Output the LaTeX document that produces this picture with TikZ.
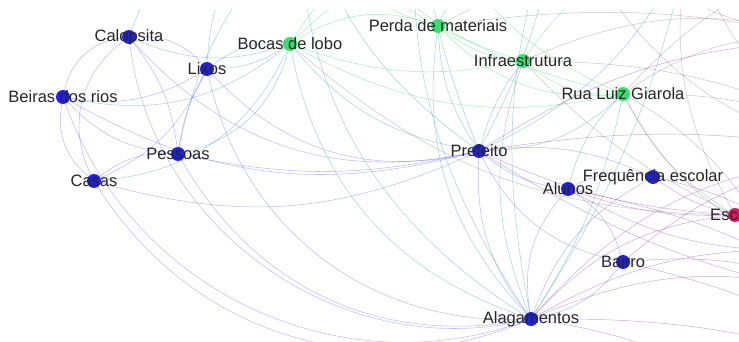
\documentclass[tikz,border=0pt]{standalone}
\usepackage{fontspec}
\setmainfont{Liberation Sans}
\usetikzlibrary{backgrounds}

\definecolor{nodeblue}{RGB}{32,32,228}
\definecolor{nodegreen}{RGB}{58,222,110}
\definecolor{nodepink}{RGB}{222,22,98}
\definecolor{edgeblue}{RGB}{90,90,245}
\definecolor{edgeteal}{RGB}{60,150,170}
\definecolor{edgegreen}{RGB}{70,225,120}
\definecolor{edgepurple}{RGB}{140,40,175}
\definecolor{edgegray}{RGB}{130,110,110}

\begin{document}
\begin{tikzpicture}[x=1pt,y=-1pt,
    every node/.style={font=\fontsize{16.5}{18}\selectfont, text=black!85},
    bnode/.style={circle, minimum size=14pt, inner sep=0pt, draw=none, fill=nodeblue},
    gnode/.style={circle, minimum size=14pt, inner sep=0pt, draw=none, fill=nodegreen},
    pnode/.style={circle, minimum size=14pt, inner sep=0pt, draw=none, fill=nodepink},
    bb/.style={draw=edgeblue, draw opacity=.4, line width=.55pt},
    bg/.style={draw=edgeteal, draw opacity=.45, line width=.5pt},
    gg/.style={draw=edgegreen, draw opacity=.5, line width=.5pt},
    bp/.style={draw=edgepurple, draw opacity=.4, line width=.5pt},
    gp/.style={draw=edgegray, draw opacity=.4, line width=.5pt},
    pp/.style={draw=nodepink, draw opacity=.45, line width=.5pt}]
    \useasboundingbox (0,0) rectangle (739,342);
    % Add the nodes
        \node[bnode, label=center:Calopsita] (cal) at (129,37) {};
        \node[bnode, label=center:Lixos] (lix) at (207,69) {};
        \node[gnode, label=center:Bocas de lobo] (boc) at (290,44) {};
        \node[bnode, label=center:Beiras dos rios] (bei) at (63,97) {};
        \node[bnode, label=center:Pessoas] (pes) at (178,154) {};
        \node[bnode, label=center:Casas] (cas) at (94,181) {};
        \node[gnode, label=center:Perda de materiais] (per) at (438,26) {};
        \node[gnode, label=center:Infraestrutura] (inf) at (523,61) {};
        \node[gnode, label=center:Rua Luiz Giarola] (rua) at (623,94) {};
        \node[bnode, label=center:Prefeito] (pre) at (479,151) {};
        \node[bnode, label=center:Frequência escolar] (fre) at (653,177) {};
        \node[bnode, label=center:Alunos] (alu) at (568,189) {};
        \node[bnode, label=center:Bairro] (bai) at (623,262) {};
        \node[bnode, label=center:Alagamentos] (ala) at (531,319) {};
        \begin{scope}
            \clip (0,0) rectangle (739,342);
            \node[pnode, label=center:Escola] (esc) at (735,215) {};
        \end{scope}
    % nodes outside the frame
        \coordinate (gA) at (300,-110);
        \coordinate (gB) at (420,-130);
        \coordinate (gC) at (560,-100);
        \coordinate (gD) at (690,-60);
        \coordinate (pA) at (830,40);
        \coordinate (pB) at (890,160);
        \coordinate (pC) at (850,300);
        \coordinate (pD) at (790,430);
        \coordinate (pE) at (960,-50);
        \coordinate (pF) at (800,250);
        \coordinate (pG) at (900,380);

    \begin{scope}[on background layer]
        \clip (0,10) rectangle (739,342);
        \draw[bb]
            (cal) edge[bend right=35] (bei)
            (bei) edge[bend right=30] (cas)
            (cal) edge[bend right=40] (cas)
            (cal) edge[bend left=15] (pes)
            (cal) edge[bend left=25] (lix)
            (bei) edge[bend right=20] (lix)
            (bei) edge[bend right=20] (pes)
            (lix) edge[bend right=10] (pes)
            (lix) edge[bend left=20] (cas)
            (pes) edge[bend right=20] (cas)
            (cas) edge[bend right=20] (pre)
            (bei) edge[bend right=22] (pre)
            (pes) edge[bend right=12] (pre)
            (lix) edge[bend right=30] (pre)
            (cal) edge[bend right=30] (pre)
            (cas) edge[bend right=40] (ala)
            (bei) edge[bend right=45] (ala)
            (cal) edge[bend right=48] (ala)
            (pes) edge[bend right=35] (ala)
            (lix) edge[bend right=40] (ala)
            (pre) edge[bend right=20] (ala)
            (pre) edge[bend right=15] (alu)
            (alu) edge[bend right=25] (ala)
            (fre) edge[bend right=20] (ala)
            (alu) edge[bend left=20] (bai)
            (bai) edge[bend left=20] (ala)
            (pre) edge[bend right=25] (bai)
            (fre) edge[bend right=20] (alu)
            (pre) edge[bend left=15] (fre)
            ;
        \draw[bg]
            (cal) edge[bend left=30] (gA)
            (cal) edge[bend right=20] (boc)
            (lix) edge[bend left=20] (boc)
            (lix) edge[bend right=15] (boc)
            (bei) edge[bend right=25] (boc)
            (cas) edge[bend right=30] (boc)
            (pes) edge[bend right=30] (boc)
            (boc) edge[bend right=30] (ala)
            (boc) edge[bend right=20] (pre)
            (per) edge[bend right=25] (ala)
            (per) edge[bend right=15] (pre)
            (inf) edge[bend right=10] (pre)
            (inf) edge[bend right=20] (ala)
            (rua) edge[bend left=20] (pre)
            (rua) edge[bend right=15] (alu)
            (rua) edge[bend left=10] (ala)
            (gA) edge[bend right=30] (ala)
            (gB) edge[bend right=20] (ala)
            (gC) edge[bend right=15] (ala)
            (gD) edge[bend left=10] (ala)
            (gA) edge[bend right=20] (pre)
            (gB) edge[bend right=10] (pre)
            (gC) edge[bend left=10] (pre)
            (gD) edge[bend left=20] (pre)
            (gA) edge[bend right=25] (lix)
            (gB) edge[bend right=30] (pes)
            ;
        \draw[gg]
            (boc) edge[bend right=20] (rua)
            (boc) edge[bend right=15] (inf)
            (boc) edge[bend left=25] (per)
            (per) edge[bend right=25] (rua)
            (per) edge[bend right=15] (inf)
            (inf) edge[bend right=20] (rua)
            (boc) edge[bend left=30] (gC)
            (boc) edge[bend left=30] (gD)
            (gA) edge[bend right=20] (rua)
            (gB) edge[bend right=25] (rua)
            (gA) edge[bend right=20] (inf)
            (per) edge[bend left=20] (gC)
            (inf) edge[bend left=20] (gD)
            (gA) edge[bend right=30] (per)
            ;
        \draw[gp]
            (boc) edge[bend right=20] (esc)
            (rua) edge[bend left=20] (pA)
            (rua) edge[bend left=15] (pB)
            (inf) edge[bend left=20] (pA)
            (per) edge[bend left=20] (pE)
            (rua) edge[bend left=25] (pE)
            (inf) edge[bend left=15] (pB)
            (gC) edge[bend right=20] (pA)
            (gD) edge[bend right=25] (pB)
            (gD) edge[bend right=20] (esc)
            (rua) edge[bend right=15] (esc)
            (inf) edge[bend right=10] (esc)
            (rua) edge[bend right=20] (pF)
            (per) edge[bend left=10] (pA)
            (gC) edge[bend right=30] (pB)
            (rua) edge[bend left=35] (pD)
            ;
        \draw[bp]
            (pre) edge[bend right=10] (esc)
            (pre) edge[bend left=15] (pA)
            (pre) edge[bend left=10] (pB)
            (alu) edge[bend right=10] (esc)
            (fre) edge[bend right=10] (esc)
            (bai) edge[bend left=20] (pB)
            (bai) edge[bend left=15] (pC)
            (ala) edge[bend left=20] (pC)
            (ala) edge[bend left=15] (pD)
            (ala) edge[bend left=25] (pB)
            (ala) edge[bend left=20] (esc)
            (pre) edge[bend right=10] (pC)
            (alu) edge[bend left=10] (pC)
            (ala) edge[bend left=15] (pF)
            (ala) edge[bend left=10] (pG)
            (bai) edge[bend left=10] (pG)
            (alu) edge[bend right=15] (pF)
            (fre) edge[bend left=20] (pC)
            ;
        \draw[pp]
            (esc) edge[bend right=10] (pA)
            (esc) edge[bend left=10] (pC)
            ;
    \end{scope}
\end{tikzpicture}
\end{document}
